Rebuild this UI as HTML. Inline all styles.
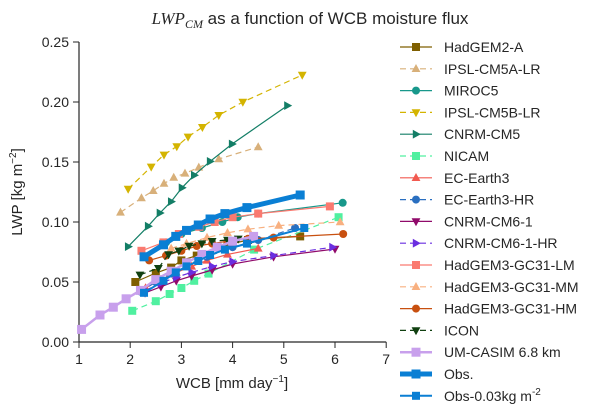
<!DOCTYPE html>
<html><head><meta charset="utf-8"><style>
body{margin:0;background:#fff;overflow:hidden;}
svg{display:block;font-family:"Liberation Sans",sans-serif;}
</style></head><body>
<svg id="chart" width="600" height="416" xmlns="http://www.w3.org/2000/svg">
<text x="310" y="24" font-size="17" text-anchor="middle" fill="#262626"><tspan font-family="Liberation Serif" font-style="italic">LWP</tspan><tspan font-family="Liberation Serif" font-style="italic" font-size="12" dy="4">CM</tspan><tspan dy="-4"> as a function of WCB moisture flux</tspan></text>
<g id="axes"></g>
<g id="series"></g>
<g id="legend"></g>
<text x="232" y="388" font-size="15" text-anchor="middle" fill="#262626">WCB [mm day<tspan font-size="10" dy="-6">−1</tspan><tspan dy="6">]</tspan></text>
<text transform="translate(22,192) rotate(-90)" font-size="15" text-anchor="middle" fill="#262626">LWP  [kg m<tspan font-size="10" dy="-6">−2</tspan><tspan dy="6">]</tspan></text>
</svg>
<script>
const xTicks=[1,2,3,4,5,6,7];
const yTicks=[0,0.05,0.10,0.15,0.20,0.25];
const yTickLabels=["0.00","0.05","0.10","0.15","0.20","0.25"];
const seriesNames=["HadGEM2-A","IPSL-CM5A-LR","MIROC5","IPSL-CM5B-LR","CNRM-CM5","NICAM","EC-Earth3","EC-Earth3-HR","CNRM-CM6-1","CNRM-CM6-1-HR","HadGEM3-GC31-LM","HadGEM3-GC31-MM","HadGEM3-GC31-HM","ICON","UM-CASIM 6.8 km","Obs.","Obs-0.03kg m-2"];
const xHadGEM2=[2.1,2.5,2.8,3.0,3.3,3.9,4.3,5.32];
const yHadGEM2=[0.05,0.0575,0.062,0.068,0.072,0.081,0.085,0.088];
const xIPSL5A=[1.81,2.22,2.45,2.66,2.85,3.07,3.34,3.73,4.50];
const yIPSL5A=[0.108,0.12,0.126,0.132,0.137,0.1405,0.1455,0.1525,0.1625];
const xMIROC=[2.7,3.0,3.4,3.8,4.1,4.5,6.15];
const yMIROC=[0.083,0.09,0.095,0.1,0.104,0.107,0.116];
const xIPSL5B=[1.96,2.41,2.66,2.91,3.13,3.41,3.73,4.20,5.36];
const yIPSL5B=[0.1275,0.146,0.156,0.163,0.171,0.179,0.189,0.2,0.2225];
const xCNRM5=[1.96,2.35,2.58,2.80,3.01,3.25,3.56,3.99,5.07];
const yCNRM5=[0.0795,0.0965,0.1075,0.117,0.1285,0.139,0.1505,0.165,0.197];
const xNICAM=[2.04,2.5,2.77,3.0,3.25,3.53,4.42,6.07];
const yNICAM=[0.026,0.034,0.04,0.045,0.051,0.057,0.077,0.104];
const xEC3=[2.3,2.6,2.9,3.2,3.5,3.9,4.5];
const yEC3=[0.045,0.052,0.058,0.063,0.068,0.073,0.078];
const xECHR=[2.2,2.5,2.8,3.1,3.5,4.0,4.5,5.22];
const yECHR=[0.042,0.05,0.057,0.064,0.071,0.079,0.085,0.095];
const xCM6=[2.29,2.6,2.9,3.2,3.6,4.0,4.8,6.0];
const yCM6=[0.041,0.046,0.051,0.055,0.06,0.065,0.071,0.0775];
const xCM6HR=[2.3,2.6,2.9,3.2,3.6,4.0,4.8,5.95];
const yCM6HR=[0.043,0.049,0.054,0.058,0.063,0.067,0.072,0.079];
const xLM=[2.22,2.65,2.95,3.35,3.65,4.0,4.5,5.9];
const yLM=[0.076,0.083,0.09,0.096,0.1,0.104,0.107,0.113];
const xMM=[2.8,3.1,3.5,3.9,4.3,4.9,6.1];
const yMM=[0.078,0.082,0.087,0.091,0.094,0.097,0.10];
const xHM=[2.37,2.7,3.0,3.3,3.6,3.9,4.3,4.8,6.16];
const yHM=[0.068,0.072,0.076,0.08,0.082,0.084,0.086,0.087,0.09];
const xICON=[2.19,2.55,2.75,2.95,3.15,3.4,3.6,3.9,4.11];
const yICON=[0.056,0.0615,0.073,0.076,0.08,0.082,0.084,0.085,0.086];
const xCASIM=[1.05,1.41,1.67,1.92,2.2,2.5,2.8,3.1,3.4,3.7,4.0,4.41];
const yCASIM=[0.0105,0.0225,0.029,0.036,0.043,0.052,0.059,0.066,0.073,0.079,0.084,0.088];
const xObs=[2.27,2.65,2.89,3.10,3.33,3.56,3.85,4.28,5.32];
const yObs=[0.071,0.081,0.088,0.093,0.0975,0.1025,0.107,0.112,0.1225];
const xObs2=[2.27,2.65,2.89,3.10,3.33,3.56,3.85,4.28,5.4];
const yObs2=[0.041,0.051,0.058,0.063,0.0675,0.0725,0.077,0.082,0.095];

const NS="http://www.w3.org/2000/svg";
const X=v=>79+(v-1)*51.2;
const Y=v=>342-v*1200;
function mk(tag,attrs,parent){const e=document.createElementNS(NS,tag);for(const k in attrs)e.setAttribute(k,attrs[k]);parent.appendChild(e);return e;}
const axes=document.getElementById('axes');
let sp=mk('line',{x1:79,y1:Y(0.25),x2:79,y2:342,stroke:'#262626','stroke-width':1.2},axes);


sp=mk('line',{x1:79,y1:342,x2:X(7),y2:342,stroke:'#262626','stroke-width':1.2},axes);


xTicks.forEach(t=>{
  const l=mk('line',{x1:X(t),y1:342,x2:X(t),y2:348,stroke:'#262626'},axes);
  
  
  const tx=mk('text',{x:X(t),y:364,'font-size':14,'text-anchor':'middle',fill:'#262626'},axes);
  tx.textContent=t;
  
  
});
yTicks.forEach((t,i)=>{
  const l=mk('line',{x1:73,y1:Y(t),x2:79,y2:Y(t),stroke:'#262626'},axes);
  
  
  const tx=mk('text',{x:69,y:Y(t)+5,'font-size':14,'text-anchor':'end',fill:'#262626'},axes);
  tx.textContent=yTickLabels[i];
  
  
});
function marker(g,shape,cx,cy,s,color){
  let e;
  if(shape==='s')e=mk('rect',{x:cx-s,y:cy-s,width:2*s,height:2*s,fill:color},g);
  else if(shape==='o')e=mk('circle',{cx:cx,cy:cy,r:s,fill:color},g);
  else if(shape==='^')e=mk('polygon',{points:`${cx},${cy-s*1.2} ${cx-s*1.1},${cy+s*0.8} ${cx+s*1.1},${cy+s*0.8}`,fill:color},g);
  else if(shape==='v')e=mk('polygon',{points:`${cx},${cy+s*1.2} ${cx-s*1.1},${cy-s*0.8} ${cx+s*1.1},${cy-s*0.8}`,fill:color},g);
  else e=mk('polygon',{points:`${cx+s*1.2},${cy} ${cx-s*0.8},${cy-s*1.1} ${cx-s*0.8},${cy+s*1.1}`,fill:color},g);
  return e;
}
const styles=[
 {xs:xHadGEM2,ys:yHadGEM2,c:'#7f5f00',m:'s',d:false,w:1.2,s:4},
 {xs:xIPSL5A,ys:yIPSL5A,c:'#d8b07a',m:'^',d:true,w:1.2,s:4},
 {xs:xMIROC,ys:yMIROC,c:'#18988b',m:'o',d:false,w:1.2,s:4},
 {xs:xIPSL5B,ys:yIPSL5B,c:'#d4b400',m:'v',d:true,w:1.2,s:4},
 {xs:xCNRM5,ys:yCNRM5,c:'#137e66',m:'>',d:false,w:1.2,s:4},
 {xs:xNICAM,ys:yNICAM,c:'#50f0a0',m:'s',d:true,w:1.2,s:4},
 {xs:xEC3,ys:yEC3,c:'#f25a50',m:'^',d:false,w:1.2,s:4},
 {xs:xECHR,ys:yECHR,c:'#2a6fc0',m:'o',d:true,w:1.2,s:4},
 {xs:xCM6,ys:yCM6,c:'#900a6a',m:'v',d:false,w:1.2,s:4},
 {xs:xCM6HR,ys:yCM6HR,c:'#6a2ee0',m:'>',d:true,w:1.2,s:4},
 {xs:xLM,ys:yLM,c:'#fa7a70',m:'s',d:false,w:1.2,s:4},
 {xs:xMM,ys:yMM,c:'#f8b080',m:'^',d:true,w:1.2,s:4},
 {xs:xHM,ys:yHM,c:'#c85010',m:'o',d:false,w:1.2,s:4},
 {xs:xICON,ys:yICON,c:'#104010',m:'v',d:true,w:1.2,s:4},
 {xs:xCASIM,ys:yCASIM,c:'#c8a0ec',m:'s',d:false,w:2.5,s:4.5},
 {xs:xObs,ys:yObs,c:'#0a7fd4',m:'s',d:false,w:5,s:4.5},
 {xs:xObs2,ys:yObs2,c:'#0a7fd4',m:'s',d:false,w:2,s:4}
];
const sg=document.getElementById('series');
const leg=document.getElementById('legend');
styles.forEach((st,i)=>{
  const g=mk('g',{},sg);
  
  
  const pts=st.xs.map((x,j)=>X(x)+','+Y(st.ys[j])).join(' ');
  const pl=mk('polyline',{points:pts,fill:'none',stroke:st.c,'stroke-width':st.w,'stroke-dasharray':st.d?'6,4':'none'},g);
  
  
  st.xs.forEach((x,j)=>{
    const m=marker(g,st.m,X(x),Y(st.ys[j]),st.s,st.c);
    
    
  });
  const ly=47+i*21.8;
  const lg=mk('g',{},leg);
  
  
  mk('line',{x1:400,y1:ly,x2:432,y2:ly,stroke:st.c,'stroke-width':st.w,'stroke-dasharray':st.d?'6,4':'none'},lg);
  marker(lg,st.m,416,ly,st.s,st.c);
  const t=mk('text',{x:444,y:ly+5,'font-size':14,fill:'#262626'},lg);
  if(i===16){t.innerHTML='Obs-0.03kg m<tspan font-size="10" dy="-6">-2</tspan>';}
  else t.textContent=seriesNames[i];
});
</script>
</body></html>
